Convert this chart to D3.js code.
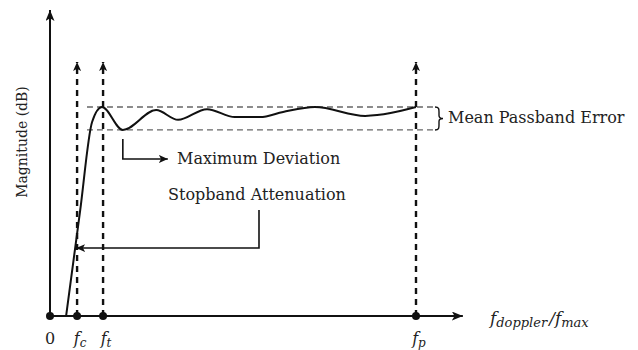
<!DOCTYPE html>
<html>
<head>
<meta charset="utf-8">
<script src="https://cdn.jsdelivr.net/npm/d3@7/dist/d3.min.js"></script>
<style>
  html, body { margin: 0; padding: 0; background: #fff; }
  svg { display: block; }
  text { font-family: "DejaVu Serif", "Liberation Serif", serif; fill: #222; }
</style>
</head>
<body>
<svg id="chart" width="638" height="350"></svg>
<script>
// Normalised frequency (f_doppler / f_max) and magnitude of the filter response
const responseFreq = [0.044, 0.082, 0.115, 0.142, 0.199, 0.290, 0.350, 0.429, 0.505, 0.574, 0.637, 0.724, 0.861, 1.0];
const responseMag  = [0,     34.1,  63.4,  68.3,  60.8,  67.3,  64.1,  67.6,  65.0,  65.0,  66.7,  68.3,  65.4,  68.3];

// Marked frequencies on the horizontal axis
const markerLabels = ["0", "fc", "ft", "fp"];
const markerFreqs  = [0, 0.074, 0.145, 1.0];

// Passband error band (upper / lower bound)
const bandBounds = [68.3, 60.8];

// Axis extents
const xExtent = [0, 1.128];
const yExtent = [0, 100];

const svg = d3.select("#chart");
const x = d3.scaleLinear().domain([0, 1]).range([50, 416]);
const y = d3.scaleLinear().domain([0, 100]).range([316, 10]);

const ink = "#111";

// arrowheads
const defs = svg.append("defs");
function arrowMarker(id, w, h) {
  defs.append("marker")
    .attr("id", id)
    .attr("viewBox", `0 0 ${w} ${h}`)
    .attr("refX", w).attr("refY", h / 2)
    .attr("markerWidth", w).attr("markerHeight", h)
    .attr("markerUnits", "userSpaceOnUse")
    .attr("orient", "auto")
    .append("path")
    .attr("d", `M0,0 L${w},${h / 2} L0,${h} L${w * 0.25},${h / 2} Z`)
    .attr("fill", ink);
}
arrowMarker("ah", 11, 9);
arrowMarker("ahSmall", 9, 8);

// passband error band (dashed bounds)
const bandX0 = 0.101, bandX1 = 1.05;
svg.append("g").selectAll("line")
  .data(bandBounds).join("line")
  .attr("x1", x(bandX0)).attr("x2", x(bandX1))
  .attr("y1", d => y(d)).attr("y2", d => y(d))
  .attr("stroke", "#666").attr("stroke-width", 1.3)
  .attr("stroke-dasharray", "6,4");

// vertical dashed guides at f_c, f_t, f_p
const guideTop = 83;
svg.append("g").selectAll("line")
  .data(markerFreqs.slice(1)).join("line")
  .attr("x1", d => x(d)).attr("x2", d => x(d))
  .attr("y1", y(0)).attr("y2", y(guideTop))
  .attr("stroke", ink).attr("stroke-width", 2.4)
  .attr("stroke-dasharray", "6,5")
  .attr("marker-end", "url(#ahSmall)");

// axes
svg.append("line")
  .attr("x1", x(0)).attr("y1", y(0))
  .attr("x2", x(0)).attr("y2", y(yExtent[1]))
  .attr("stroke", ink).attr("stroke-width", 2)
  .attr("marker-end", "url(#ah)");
svg.append("line")
  .attr("x1", x(0)).attr("y1", y(0))
  .attr("x2", x(xExtent[1])).attr("y2", y(0))
  .attr("stroke", ink).attr("stroke-width", 2)
  .attr("marker-end", "url(#ah)");

// response curve
const pts = responseFreq.map((f, i) => [f, responseMag[i]]);
svg.append("path")
  .datum(pts)
  .attr("d", d3.line().x(d => x(d[0])).y(d => y(d[1])).curve(d3.curveMonotoneX))
  .attr("fill", "none").attr("stroke", ink).attr("stroke-width", 2);

// marker dots on the axis
svg.append("g").selectAll("circle")
  .data(markerFreqs).join("circle")
  .attr("cx", d => x(d)).attr("cy", y(0)).attr("r", 4)
  .attr("fill", ink);

// marker labels
const lab = svg.append("g").selectAll("text")
  .data(markerLabels).join("text")
  .attr("x", (d, i) => x(markerFreqs[i]) + (i === 0 ? 0 : 3))
  .attr("y", 344)
  .attr("text-anchor", "middle")
  .style("font-size", "16px");
lab.each(function (d) {
  const t = d3.select(this);
  if (d.length === 1) { t.text(d); return; }
  t.append("tspan").style("font-style", "italic").text(d[0]);
  t.append("tspan").style("font-style", "italic").style("font-size", "12px")
    .attr("dy", 3).text(d.slice(1));
});

// horizontal axis title: f_doppler / f_max
const xt = svg.append("text").attr("x", 490).attr("y", 324).style("font-size", "17px").style("font-style", "italic");
xt.append("tspan").text("f");
xt.append("tspan").attr("dy", 3).style("font-size", "13px").text("doppler");
xt.append("tspan").attr("dy", -3).attr("dx", 2).text("/f");
xt.append("tspan").attr("dy", 3).style("font-size", "13px").text("max");

// vertical axis title
svg.append("text")
  .attr("transform", `translate(27,${142}) rotate(-90)`)
  .attr("text-anchor", "middle")
  .style("font-size", "14px")
  .text("Magnitude (dB)");

// Mean Passband Error brace + label
const bTop = y(bandBounds[0]), bBot = y(bandBounds[1]), bMid = (bTop + bBot) / 2, bx = 435;
svg.append("path")
  .attr("d", `M${bx},${bTop} C${bx + 4},${bTop} ${bx + 4},${bTop + 2} ${bx + 4},${bTop + 5}
              L${bx + 4},${bMid - 3} C${bx + 4},${bMid - 1} ${bx + 5},${bMid} ${bx + 8},${bMid}
              C${bx + 5},${bMid} ${bx + 4},${bMid + 1} ${bx + 4},${bMid + 3}
              L${bx + 4},${bBot - 5} C${bx + 4},${bBot - 2} ${bx + 4},${bBot} ${bx},${bBot}`)
  .attr("fill", "none").attr("stroke", ink).attr("stroke-width", 1.4);
svg.append("text").attr("x", 448).attr("y", bMid + 5)
  .style("font-size", "16px").text("Mean Passband Error");

// Maximum Deviation annotation: from the deepest passband trough
const troughMag = d3.min(responseMag.slice(3));
const tx = x(responseFreq[responseMag.indexOf(troughMag)]);
svg.append("path")
  .attr("d", `M${tx},${y(troughMag) + 9} L${tx},159 L${tx + 45},159`)
  .attr("fill", "none").attr("stroke", ink).attr("stroke-width", 1.6)
  .attr("marker-end", "url(#ahSmall)");
svg.append("text").attr("x", 177).attr("y", 164)
  .style("font-size", "16px").text("Maximum Deviation");

// Stopband Attenuation annotation pointing at the transition slope
const sbMag = 22.2;
const sbX = x(responseFreq[0] + (responseFreq[1] - responseFreq[0]) * sbMag / responseMag[1]);
svg.append("path")
  .attr("d", `M259,210 L259,${y(sbMag)} L${sbX + 1},${y(sbMag)}`)
  .attr("fill", "none").attr("stroke", ink).attr("stroke-width", 1.6)
  .attr("marker-end", "url(#ahSmall)");
svg.append("text").attr("x", 168).attr("y", 200)
  .style("font-size", "16px").text("Stopband Attenuation");
</script>
</body>
</html>
